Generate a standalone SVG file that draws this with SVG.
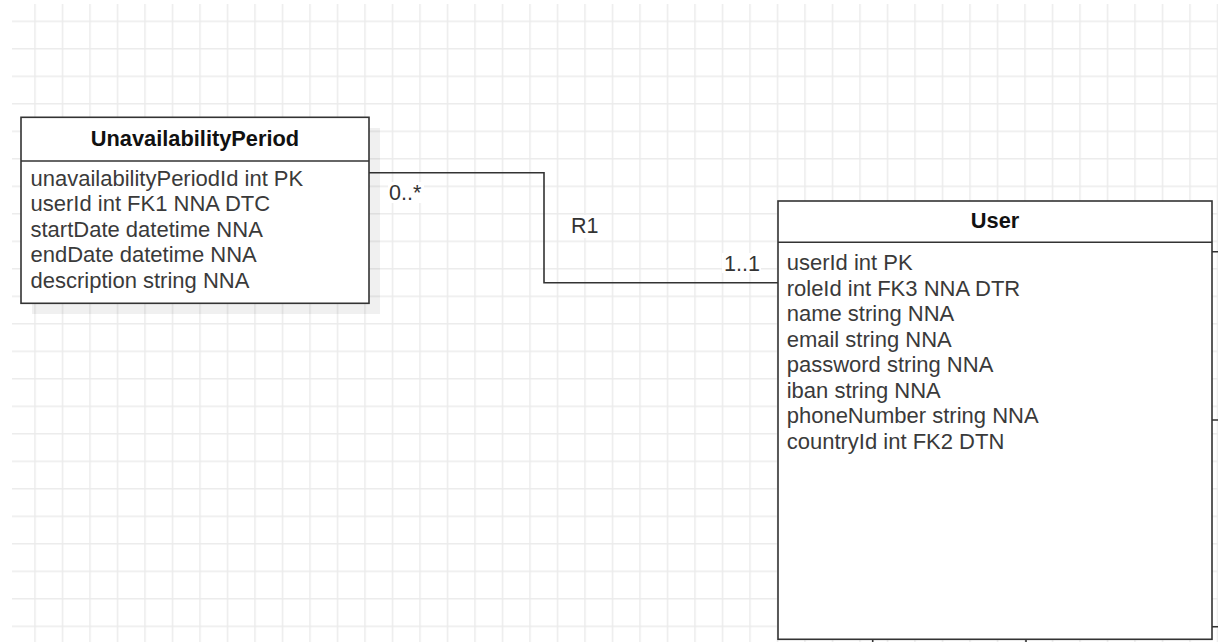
<svg xmlns="http://www.w3.org/2000/svg" width="1218" height="642" viewBox="0 0 1218 642">
<style>
.box{fill:#ffffff;stroke:#333333;stroke-width:1.6}
.div{stroke:#333333;stroke-width:1.6}
.title{font-family:"Liberation Sans",Arial,sans-serif;font-size:21.8px;font-weight:bold;fill:#111111;text-anchor:middle}
.attr{font-family:"Liberation Sans",Arial,sans-serif;font-size:22px;fill:#3a3a3a}
.lbl{font-family:"Liberation Sans",Arial,sans-serif;font-size:21.5px;fill:#333333}
.edge{fill:none;stroke:#333333;stroke-width:1.6}
.lblbg{fill:#ffffff}
</style>
<defs>
<pattern id="grid" patternUnits="userSpaceOnUse" x="34.25" y="20.55" width="27.5" height="27.5">
<path d="M0.75 0V27.5M0 0.75H27.5" stroke="#ebebeb" stroke-width="1.5" fill="none"/>
</pattern>
</defs>
<rect x="0" y="0" width="1218" height="642" fill="#ffffff"/>
<rect x="12" y="4" width="1206" height="638" fill="url(#grid)"/>

<g id="connectors">
<path class="edge" d="M369 172.7H544V282.7H778"/>
<rect class="lblbg" x="388" y="182" width="36" height="21"/>
<text class="lbl" x="389" y="200">0..*</text>
<rect class="lblbg" x="569" y="215" width="33" height="23"/>
<text class="lbl" x="571" y="233.3">R1</text>
<rect class="lblbg" x="722" y="253" width="39" height="20"/>
<text class="lbl" x="724" y="270.7">1..1</text>
<path class="edge" d="M1212 251.7H1218M1212 420H1218M1212 626.7H1218M872.7 639V642M1026 639V642"/>
</g>

<g id="UnavailabilityPeriod">
<rect x="32" y="128" width="348" height="186" fill="#000000" fill-opacity="0.06"/>
<rect class="box" x="21" y="117.3" width="348" height="186"/>
<line class="div" x1="21" y1="161" x2="369" y2="161"/>
<text class="title" x="195" y="146">UnavailabilityPeriod</text>
<text class="attr" x="30.5" y="185.7">unavailabilityPeriodId int PK</text>
<text class="attr" x="30.5" y="211.2">userId int FK1 NNA DTC</text>
<text class="attr" x="30.5" y="236.7">startDate datetime NNA</text>
<text class="attr" x="30.5" y="262.2">endDate datetime NNA</text>
<text class="attr" x="30.5" y="287.7">description string NNA</text>
</g>

<g id="User">
<rect class="box" x="778" y="201" width="434" height="438.3"/>
<line class="div" x1="778" y1="242.3" x2="1212" y2="242.3"/>
<text class="title" x="995" y="228.3">User</text>
<text class="attr" x="786.7" y="270">userId int PK</text>
<text class="attr" x="786.7" y="295.5">roleId int FK3 NNA DTR</text>
<text class="attr" x="786.7" y="321">name string NNA</text>
<text class="attr" x="786.7" y="346.5">email string NNA</text>
<text class="attr" x="786.7" y="372">password string NNA</text>
<text class="attr" x="786.7" y="397.5">iban string NNA</text>
<text class="attr" x="786.7" y="423">phoneNumber string NNA</text>
<text class="attr" x="786.7" y="448.5">countryId int FK2 DTN</text>
</g>
</svg>
